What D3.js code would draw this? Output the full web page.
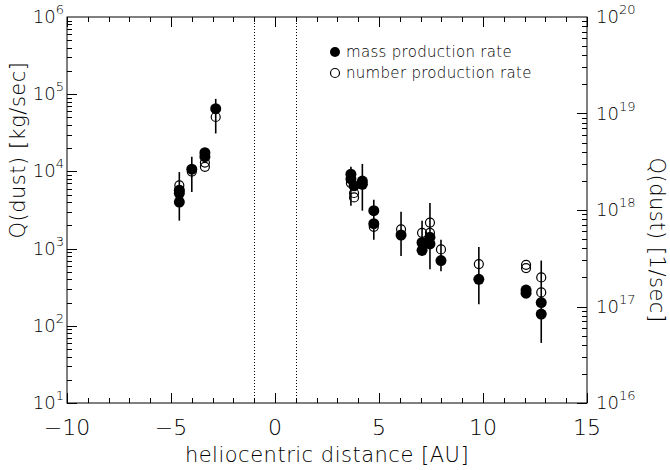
<!DOCTYPE html>
<html><head><meta charset="utf-8">
<script src="https://cdn.jsdelivr.net/npm/d3@7"></script>
<style>
body{margin:0;background:#fff;}
text{font-family:"DejaVu Sans",sans-serif;font-weight:200;fill:#000;}
</style></head>
<body><svg id="c" width="670" height="470"></svg>
<script>
// mass production rate [kg/sec] (filled)
const massAU = [-4.6,-4.6,-4.6,-4.0,-3.37,-3.37,-2.85, 3.65,3.65,3.8,4.2,4.2,4.75,4.75,6.06,7.07,7.07,7.45,7.45,7.98,9.8,12.07,12.07,12.8,12.8];
const massQ  = [4000,5200,5700,10700,17500,15500,65000, 9200,8000,6500,7500,6800,3100,2100,1500,1200,950,1400,1150,700,400,290,265,200,142];
// error bars on mass rate
const errAU = [-4.6,-4.0,-3.37,-2.85,3.65,4.2,4.75,6.06,7.07,7.45,7.98,9.8,12.8];
const errLo = [2300,5400,13000,31000,3600,3100,1300,800,800,540,510,190,60];
const errHi = [9800,15500,19000,87000,11500,12500,4300,3000,2300,3900,1300,1050,700];
// number production rate [1/sec] (open)
const numAU = [-4.6,-4.6,-4.0,-3.37,-3.37,-2.85, 3.65,3.8,3.8,4.75,6.06,7.07,7.45,7.45,7.98,9.8,12.07,12.07,12.8,12.8];
const numQ  = [1.6e18,1.8e18,2.5e18,3.1e18,2.8e18,9.2e18, 1.9e18,1.5e18,1.35e18,6.7e17,6.3e17,5.8e17,7.4e17,5.8e17,3.9e17,2.75e17,2.7e17,2.5e17,2.0e17,1.4e17];
const xTicks = [-10,-5,0,5,10,15];
const leftExp = [1,2,3,4,5,6];
const rightExp = [16,17,18,19,20];
const legendLabels = ["mass production rate","number production rate"];

const svg = d3.select("#c");
const L=67, R=587, T=17, B=403;
const x = d3.scaleLinear().domain([-10,15]).range([L,R]);
const yL = d3.scaleLog().domain([10,1e6]).range([B,T]);
const yR = d3.scaleLog().domain([1e16,1e20]).range([B,T]);

// frame
svg.append("rect").attr("x",L).attr("y",T).attr("width",R-L).attr("height",B-T)
  .attr("fill","none").attr("stroke","#000").attr("stroke-width",1);

const g = svg.append("g").attr("stroke","#000").attr("stroke-width",1);
// x ticks (bottom and top)
d3.range(-10,16,1).forEach(v=>{
  const len = (v%5===0)?10:5;
  const px = Math.round(x(v))+0.5;
  g.append("line").attr("x1",px).attr("x2",px).attr("y1",B).attr("y2",B-len);
  g.append("line").attr("x1",px).attr("x2",px).attr("y1",T).attr("y2",T+len);
});
// left y ticks
for(let e=1;e<6;e++){
  for(let m=1;m<10;m++){
    const v=m*Math.pow(10,e); const py=Math.round(yL(v))+0.5;
    g.append("line").attr("x1",L).attr("x2",L+(m===1?10:5)).attr("y1",py).attr("y2",py);
  }
}
// right y ticks
for(let e=16;e<20;e++){
  for(let m=1;m<10;m++){
    const v=m*Math.pow(10,e); const py=Math.round(yR(v))+0.5;
    g.append("line").attr("x1",R).attr("x2",R-(m===1?10:5)).attr("y1",py).attr("y2",py);
  }
}
// dotted lines at +-1 AU
[-1,1].forEach(v=>{
  svg.append("line").attr("x1",Math.round(x(v))+0.5).attr("x2",Math.round(x(v))+0.5)
   .attr("y1",T).attr("y2",B).attr("stroke","#000").attr("stroke-width",1).attr("stroke-dasharray","1,2");
});

// x tick labels
svg.selectAll(".xt").data(xTicks).enter().append("text")
  .attr("x",d=>x(d)).attr("y",435).attr("text-anchor","middle").attr("font-size",22)
  .text(d=>d<0?"\u2212"+Math.abs(d):d);
// left y labels
leftExp.forEach(e=>{
  const t=svg.append("text").attr("x",L-3).attr("y",yL(Math.pow(10,e))+6).attr("text-anchor","end").attr("font-size",18);
  t.append("tspan").text("10");
  t.append("tspan").attr("dy",-9).attr("font-size",13).text(e);
});
rightExp.forEach(e=>{
  const t=svg.append("text").attr("x",R+9).attr("y",yR(Math.pow(10,e))+6).attr("text-anchor","start").attr("font-size",18);
  t.append("tspan").text("10");
  t.append("tspan").attr("dy",-9).attr("font-size",13).text(e);
});
// axis titles
svg.append("text").attr("x",327).attr("y",462).attr("text-anchor","middle").attr("font-size",21)
  .attr("letter-spacing",0.5).text("heliocentric distance [AU]");
svg.append("text").attr("transform","translate(25,150) rotate(-90)").attr("text-anchor","middle").attr("font-size",21)
  .attr("letter-spacing",0.5).text("Q(dust) [kg/sec]");
svg.append("text").attr("transform","translate(650,240) rotate(90)").attr("text-anchor","middle").attr("font-size",21)
  .attr("letter-spacing",0.5).text("Q(dust) [1/sec]");

// error bars
svg.selectAll(".eb").data(errAU).enter().append("line")
  .attr("x1",d=>x(d)).attr("x2",d=>x(d))
  .attr("y1",(d,i)=>yL(errLo[i])).attr("y2",(d,i)=>yL(errHi[i]))
  .attr("stroke","#000").attr("stroke-width",1.6);
// open circles (number rate, right axis)
svg.selectAll(".nc").data(numAU).enter().append("circle")
  .attr("cx",d=>x(d)).attr("cy",(d,i)=>yR(numQ[i])).attr("r",4.5)
  .attr("fill","none").attr("stroke","#000").attr("stroke-width",1.2);
// filled circles (mass rate, left axis)
svg.selectAll(".mc").data(massAU).enter().append("circle")
  .attr("cx",d=>x(d)).attr("cy",(d,i)=>yL(massQ[i])).attr("r",5.5)
  .attr("fill","#000");

// legend
svg.append("circle").attr("cx",335).attr("cy",52).attr("r",5).attr("fill","#000");
svg.append("circle").attr("cx",335).attr("cy",73).attr("r",4.5).attr("fill","none").attr("stroke","#000").attr("stroke-width",1.2);
legendLabels.forEach((s,i)=>{
  svg.append("text").attr("x",346).attr("y",57+i*21).attr("font-size",15).attr("letter-spacing",0.3).text(s);
});
</script></body></html>
